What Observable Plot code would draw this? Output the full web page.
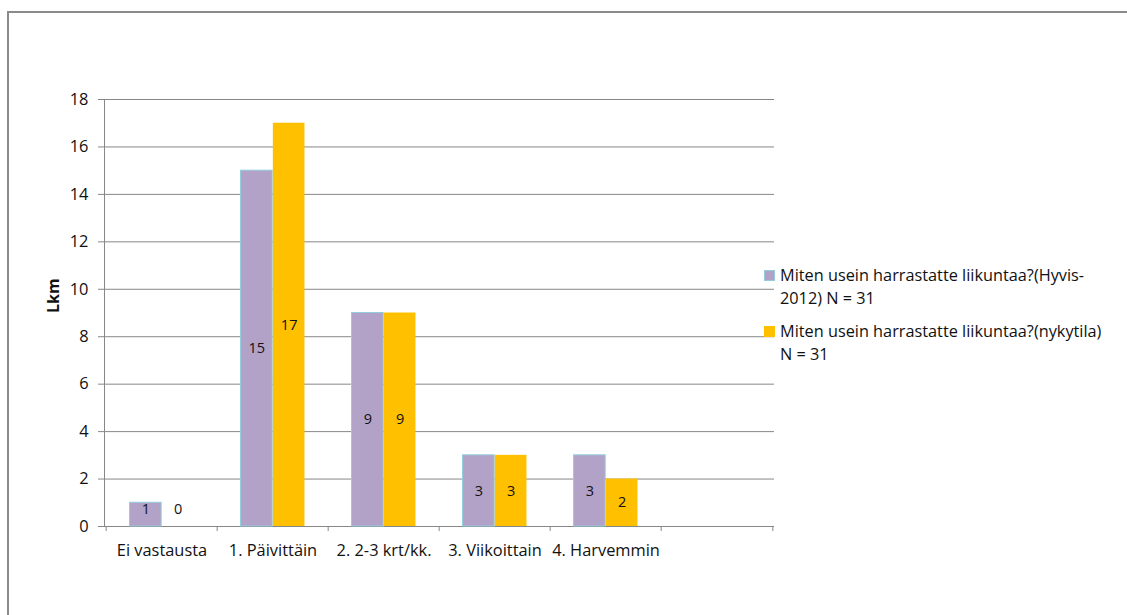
<!DOCTYPE html>
<html>
<head>
<meta charset="utf-8">
<script src="https://cdn.jsdelivr.net/npm/d3@7"></script>
<script src="https://cdn.jsdelivr.net/npm/@observablehq/plot@0.6"></script>
<style>
  body { margin: 0; background: #fff; overflow: hidden; font-family: "Open Sans", Lato, sans-serif; }
  #wrap { position: relative; width: 1127px; height: 615px; overflow: hidden; }
  #edge { position: absolute; left: 7px; top: 11px; width: 1200px; height: 700px;
          border-top: 2px solid #8a8a8a; border-left: 2px solid #8a8a8a; }
  #chart { position: absolute; left: 0; top: 0; }
  #legend { position: absolute; left: 764px; top: 264px; font-size: 16.3px; color: #111;
            line-height: 23px; white-space: pre-line; }
  .item { position: relative; padding-left: 16px; margin-bottom: 10px; }
  .sw { position: absolute; left: 0; top: 6px; width: 11px; height: 11px; box-sizing: border-box; }
</style>
</head>
<body>
<div id="wrap">
  <div id="edge"></div>
  <div id="chart"></div>
  <div id="legend"></div>
</div>
<script>
// Answer categories (the last slot is an empty category)
const categories = ["Ei vastausta", "1. Päivittäin", "2. 2-3 krt/kk.", "3. Viikoittain", "4. Harvemmin", ""];
// Counts per category
const hyvis2012 = [1, 15, 9, 3, 3];
const nykytila = [0, 17, 9, 3, 2];
const seriesNames = [
  "Miten usein harrastatte liikuntaa?(Hyvis-\n2012) N = 31",
  "Miten usein harrastatte liikuntaa?(nykytila)\nN = 31"
];
const yTicks = [0, 2, 4, 6, 8, 10, 12, 14, 16, 18];
const yLabel = "Lkm";

const colors = ["#b3a2c7", "#ffc000"];
const gray = "#878787";
const ink = "#111";
const axisFont = 16.4;

const W = 1127, H = 615;
const plotLeft = 104, plotRight = 774, plotTop = 99, plotBottom = 526;
const step = (plotRight - plotLeft) / categories.length;
const barW = 32.3;

const rowsA = hyvis2012.map((v, i) => ({cat: categories[i], value: v}));
const rowsB = nykytila.map((v, i) => ({cat: categories[i], value: v}));
const labelY = d => Math.max(d.value / 2, 0.72);

const chart = Plot.plot({
  width: W,
  height: H,
  marginLeft: plotLeft,
  marginRight: W - plotRight,
  marginTop: plotTop,
  marginBottom: H - plotBottom,
  style: {fontFamily: "'Open Sans', sans-serif", color: ink, background: "transparent"},
  x: {domain: categories, padding: 0, label: null},
  y: {domain: [0, 18], label: null},
  marks: [
    Plot.ruleY(yTicks, {stroke: gray}),
    Plot.frame({anchor: "left", stroke: gray}),
    Plot.axisY(yTicks, {tickSize: 6, tickPadding: 10, stroke: gray, fill: ink, fontSize: axisFont, label: null}),
    Plot.axisX({tickSize: 0, tickPadding: 18, fill: ink, fontSize: axisFont, label: null}),
    Plot.axisX({tickSize: 5, dx: -step / 2, tickFormat: () => "", stroke: gray, label: null}),
    Plot.axisX([""], {tickSize: 5, dx: step / 2, tickFormat: () => "", stroke: gray, label: null}),
    Plot.barY(rowsA, {x: "cat", y: "value", fill: colors[0], stroke: "#93cddd", strokeWidth: 1,
      insetLeft: step / 2 - barW, insetRight: step / 2}),
    Plot.barY(rowsB, {x: "cat", y: "value", fill: colors[1],
      insetLeft: step / 2, insetRight: step / 2 - barW}),
    Plot.text(rowsA, {x: "cat", y: labelY, text: d => String(d.value), dx: -barW / 2, fontSize: 14.5, fill: ink}),
    Plot.text(rowsB, {x: "cat", y: labelY, text: d => String(d.value), dx: barW / 2, fontSize: 14.5, fill: ink}),
    Plot.text([yLabel], {frameAnchor: "left", rotate: -90, dx: -51, text: d => d, fontWeight: "bold", fontSize: 16, fill: ink})
  ]
});
document.getElementById("chart").appendChild(chart);

// Legend
const legend = document.getElementById("legend");
seriesNames.forEach((name, i) => {
  const item = document.createElement("div");
  item.className = "item";
  const sw = document.createElement("span");
  sw.className = "sw";
  sw.style.background = colors[i];
  if (i === 0) sw.style.border = "1px solid #93cddd";
  item.appendChild(sw);
  item.appendChild(document.createTextNode(name));
  legend.appendChild(item);
});
</script>
</body>
</html>
